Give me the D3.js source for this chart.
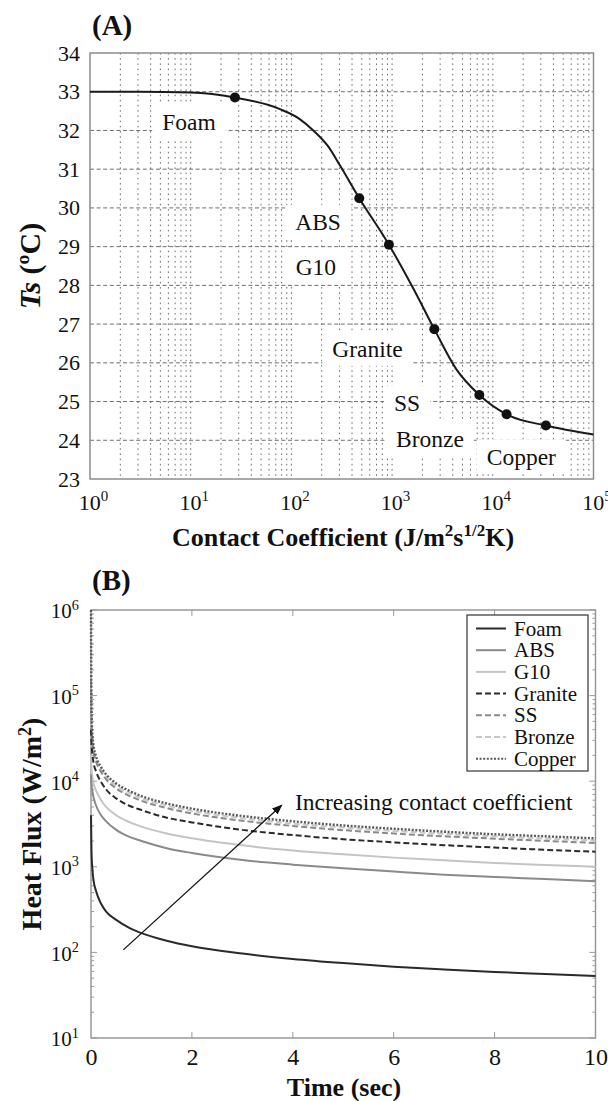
<!DOCTYPE html>
<html><head><meta charset="utf-8">
<script src="https://cdn.jsdelivr.net/npm/d3@7"></script>
<style>
body{margin:0;background:#fff}
svg text{font-family:"Liberation Serif","Times New Roman",Times,"DejaVu Serif",serif;fill:#111}
</style>
</head><body>
<svg id="c" width="608" height="1101"></svg>
<script>
// ---------- Panel A data ----------
const tsTicks = [23,24,25,26,27,28,29,30,31,32,33,34];
const kDecades = [0,1,2,3,4,5];
const curveK  = [1, 3, 10, 27.5, 77, 120, 165, 230, 303, 472, 930, 1600, 2625, 4300, 7350, 13700, 33700, 100000];
const curveTs = [33.0, 33.0, 32.98, 32.85, 32.55, 32.3, 32.0, 31.6, 31.1, 30.25, 29.05, 27.95, 26.87, 25.85, 25.17, 24.67, 24.38, 24.15];
const materials = ["Foam","ABS","G10","Granite","SS","Bronze","Copper"];
const matK  = [27.5, 472, 930, 2625, 7350, 13700, 33700];
const matTs = [32.85, 30.25, 29.05, 26.87, 25.17, 24.67, 24.38];
const labelK  = [9.6, 184, 175, 570, 1406, 2380, 19200];
const labelTs = [32.23, 29.64, 28.48, 26.36, 24.96, 24.03, 23.58];

// ---------- Panel B data ----------
const fluxDecades = [1,2,3,4,5,6];
const timeTicks = [0,2,4,6,8,10];
const time = [0, 0.01, 0.03, 0.05, 0.1, 0.2, 0.3, 0.5, 0.75, 1, 1.5, 2, 3, 4, 5, 6, 7, 8, 9, 10];
const fluxFoam    = [4000, 1500, 900, 700, 520, 370, 300, 240, 195, 168, 137, 118, 97, 84, 75, 68, 63, 59, 56, 53];
const fluxABS     = [12000, 9000, 7500, 6500, 5200, 4000, 3400, 2700, 2250, 2000, 1650, 1450, 1200, 1060, 960, 880, 810, 760, 720, 680];
const fluxG10     = [20000, 14000, 11000, 9500, 7800, 6000, 5000, 4000, 3350, 2950, 2450, 2150, 1780, 1550, 1400, 1280, 1190, 1110, 1050, 1000];
const fluxGranite = [40000, 28000, 20000, 16500, 13000, 9800, 8000, 6300, 5200, 4600, 3750, 3300, 2700, 2350, 2100, 1930, 1790, 1680, 1580, 1500];
const fluxSS      = [150000, 45000, 28000, 22000, 17000, 12800, 10500, 8200, 6800, 5900, 4850, 4200, 3450, 3000, 2680, 2450, 2270, 2130, 2010, 1900];
const fluxBronze  = [250000, 55000, 31000, 24000, 18200, 13700, 11300, 8800, 7300, 6300, 5200, 4500, 3700, 3200, 2870, 2620, 2430, 2270, 2140, 2030];
const fluxCopper  = [1000000, 70000, 34000, 26000, 19500, 14600, 12000, 9400, 7750, 6700, 5500, 4780, 3920, 3400, 3040, 2780, 2570, 2400, 2270, 2150];
const seriesNames = ["Foam","ABS","G10","Granite","SS","Bronze","Copper"];
const seriesData = [fluxFoam, fluxABS, fluxG10, fluxGranite, fluxSS, fluxBronze, fluxCopper];
const arrowTime = [0.64, 3.78];
const arrowFlux = [107, 5250];

const seriesColor = ["#2a2a2a","#8a8a8a","#c4c4c4","#2a2a2a","#8a8a8a","#c8c8c8","#5a5a5a"];
const seriesDash  = [null, null, null, "6,3", "6,3", "6,3", "2,1.6"];

const svg = d3.select("#c");

function supLabel(sel, base, exp, size) {
  sel.text(null);
  sel.append("tspan").text(base);
  sel.append("tspan").attr("dy", -size*0.42).attr("font-size", size*0.68).text(exp);
}

// ================= Panel A =================
const A = {l:90, r:593.5, t:53, b:479};
const xA = d3.scaleLog().domain([1, 1e5]).range([A.l, A.r]);
const yA = d3.scaleLinear().domain([23, 34]).range([A.b, A.t]);
const gA = svg.append("g");

const vGrid = [];
for (let d = 0; d < 5; d++) for (let m = 1; m < 10; m++) vGrid.push(m * Math.pow(10, d));
gA.append("g").selectAll("line").data(vGrid.filter(v => v > 1)).join("line")
  .attr("x1", d => xA(d)).attr("x2", d => xA(d)).attr("y1", A.t).attr("y2", A.b)
  .attr("stroke", "#6e6e6e").attr("stroke-width", 1).attr("stroke-dasharray", "1.6,3.6");
gA.append("g").selectAll("line").data(tsTicks.filter(v => v > 23 && v < 34)).join("line")
  .attr("x1", A.l).attr("x2", A.r).attr("y1", d => yA(d)).attr("y2", d => yA(d))
  .attr("stroke", "#6e6e6e").attr("stroke-width", 1).attr("stroke-dasharray", "4,2.6");

const labG = gA.append("g");
materials.forEach((m, i) => {
  const t = labG.append("text").attr("x", xA(labelK[i])).attr("y", yA(labelTs[i]))
    .attr("text-anchor", "middle").attr("dy", "0.34em")
    .attr("font-size", 23.5).text(m);
  const bb = t.node().getBBox();
  labG.insert("rect", "text").attr("x", bb.x - 10).attr("y", bb.y - 4)
    .attr("width", bb.width + 20).attr("height", bb.height + 8).attr("fill", "#fff");
});

gA.append("rect").attr("x", A.l).attr("y", A.t).attr("width", A.r - A.l).attr("height", A.b - A.t)
  .attr("fill", "none").attr("stroke", "#8c8c8c").attr("stroke-width", 1.5);

const lineA = d3.line().x((d, i) => xA(curveK[i])).y(d => yA(d)).curve(d3.curveMonotoneX);
gA.append("path").datum(curveTs).attr("d", lineA).attr("fill", "none")
  .attr("stroke", "#1a1a1a").attr("stroke-width", 2);
gA.selectAll("circle.m").data(matTs).join("circle")
  .attr("cx", (d, i) => xA(matK[i])).attr("cy", d => yA(d)).attr("r", 5).attr("fill", "#111");

const axA = d3.axisLeft(yA).tickValues(tsTicks).tickSize(0).tickPadding(10);
const axAg = gA.append("g").attr("transform", `translate(${A.l},0)`).call(axA);
axAg.select(".domain").remove();
axAg.selectAll("text").attr("font-size", 22).attr("fill", "#111");

const axAx = d3.axisBottom(xA).tickValues(kDecades.map(e => Math.pow(10, e))).tickSize(0).tickPadding(0);
const axAxg = gA.append("g").attr("transform", `translate(0,${A.b})`).call(axAx);
axAxg.select(".domain").remove();
axAxg.selectAll("text").attr("font-size", 22).attr("fill", "#111").attr("y", 31).attr("dy", 0)
  .attr("dx", 3)
  .each(function(d, i) { supLabel(d3.select(this), "10", String(kDecades[i]), 22); });

const xlabA = gA.append("text").attr("x", 343).attr("y", 546).attr("text-anchor", "middle")
  .attr("font-size", 26).attr("font-weight", "bold");
xlabA.append("tspan").text("Contact Coefficient (J/m");
xlabA.append("tspan").attr("dy", -10).attr("font-size", 17).text("2");
xlabA.append("tspan").attr("dy", 10).text("s");
xlabA.append("tspan").attr("dy", -10).attr("font-size", 17).text("1/2");
xlabA.append("tspan").attr("dy", 10).text("K)");

const ylabA = gA.append("text").attr("transform", `translate(40,${(A.t + A.b) / 2}) rotate(-90)`)
  .attr("text-anchor", "middle").attr("font-size", 30).attr("font-weight", "bold");
ylabA.append("tspan").attr("font-style", "italic").text("Ts");
ylabA.append("tspan").text(" (ºC)");

gA.append("text").attr("x", 92).attr("y", 35).attr("font-size", 29).attr("font-weight", "bold").text("(A)");

// ================= Panel B =================
const B = {l:91, r:595.5, t:610, b:1038};
const xB = d3.scaleLinear().domain([0, 10]).range([B.l, B.r]);
const yB = d3.scaleLog().domain([10, 1e6]).range([B.b, B.t]);
const gB = svg.append("g");

gB.append("rect").attr("x", B.l).attr("y", B.t).attr("width", B.r - B.l).attr("height", B.b - B.t)
  .attr("fill", "none").attr("stroke", "#999").attr("stroke-width", 1.5);

const minorB = [];
for (let d = 1; d < 6; d++) for (let m = 2; m < 10; m++) minorB.push(m * Math.pow(10, d));
[B.l, B.r].forEach((x0, side) => {
  const dir = side === 0 ? 1 : -1;
  gB.append("g").selectAll("line").data(minorB).join("line")
    .attr("x1", x0).attr("x2", x0 + dir * 3).attr("y1", d => yB(d)).attr("y2", d => yB(d))
    .attr("stroke", "#999").attr("stroke-width", 1);
  gB.append("g").selectAll("line").data(fluxDecades.map(e => Math.pow(10, e))).join("line")
    .attr("x1", x0).attr("x2", x0 + dir * 6).attr("y1", d => yB(d)).attr("y2", d => yB(d))
    .attr("stroke", "#999").attr("stroke-width", 1);
});
[B.t, B.b].forEach((y0, side) => {
  const dir = side === 0 ? 1 : -1;
  gB.append("g").selectAll("line").data(timeTicks.slice(1, -1)).join("line")
    .attr("x1", d => xB(d)).attr("x2", d => xB(d)).attr("y1", y0).attr("y2", y0 + dir * 6)
    .attr("stroke", "#999").attr("stroke-width", 1);
});

const lineB = d3.line().x((d, i) => xB(time[i])).y(d => yB(d)).curve(d3.curveMonotoneX);
const order = [2, 1, 5, 4, 3, 6, 0];
order.forEach(i => {
  gB.append("path").datum(seriesData[i]).attr("d", lineB).attr("fill", "none")
    .attr("stroke", seriesColor[i]).attr("stroke-width", i === 6 ? 2.4 : 2)
    .attr("stroke-dasharray", seriesDash[i]);
});

const axBy = d3.axisLeft(yB).tickValues(fluxDecades.map(e => Math.pow(10, e))).tickSize(0).tickPadding(12);
const axByg = gB.append("g").attr("transform", `translate(${B.l},0)`).call(axBy);
axByg.select(".domain").remove();
axByg.selectAll("text").attr("font-size", 21).attr("fill", "#111").attr("dy", "0.38em")
  .each(function(d, i) { supLabel(d3.select(this), "10", String(fluxDecades[i]), 21); });

const axBx = d3.axisBottom(xB).tickValues(timeTicks).tickSize(0).tickPadding(0);
const axBxg = gB.append("g").attr("transform", `translate(0,${B.b})`).call(axBx);
axBxg.select(".domain").remove();
axBxg.selectAll("text").attr("font-size", 24).attr("fill", "#111").attr("y", 27).attr("dy", 0);

gB.append("text").attr("x", 344).attr("y", 1096).attr("text-anchor", "middle")
  .attr("font-size", 26).attr("font-weight", "bold").text("Time (sec)");

const ylabB = gB.append("text").attr("transform", `translate(41,${(B.t + B.b) / 2}) rotate(-90)`)
  .attr("text-anchor", "middle").attr("font-size", 28).attr("font-weight", "bold");
ylabB.append("tspan").text("Heat Flux (W/m");
ylabB.append("tspan").attr("dy", -10).attr("font-size", 18).text("2");
ylabB.append("tspan").attr("dy", 10).text(")");

gB.append("text").attr("x", 92).attr("y", 590).attr("font-size", 29).attr("font-weight", "bold").text("(B)");

const lg = gB.append("g");
lg.append("rect").attr("x", 467).attr("y", 615).attr("width", 121).attr("height", 156)
  .attr("fill", "#fff").attr("stroke", "#333").attr("stroke-width", 1.2);
seriesNames.forEach((n, i) => {
  const y = 628.5 + i * 21.7;
  lg.append("line").attr("x1", 476).attr("x2", 506).attr("y1", y).attr("y2", y)
    .attr("stroke", seriesColor[i]).attr("stroke-width", 2).attr("stroke-dasharray", seriesDash[i]);
  lg.append("text").attr("x", 514).attr("y", y).attr("dy", "0.34em")
    .attr("font-size", 21).text(n);
});

const defs = svg.append("defs");
defs.append("marker").attr("id", "ah").attr("viewBox", "0 0 10 10").attr("refX", 9).attr("refY", 5)
  .attr("markerWidth", 8).attr("markerHeight", 8).attr("orient", "auto")
  .append("path").attr("d", "M0,1 L10,5 L0,9 Z").attr("fill", "#111");
gB.append("line").attr("x1", xB(arrowTime[0])).attr("y1", yB(arrowFlux[0]))
  .attr("x2", xB(arrowTime[1])).attr("y2", yB(arrowFlux[1]))
  .attr("stroke", "#111").attr("stroke-width", 1.3).attr("marker-end", "url(#ah)");
gB.append("text").attr("x", 295).attr("y", 802).attr("dy", "0.34em").attr("font-size", 23.5)
  .text("Increasing contact coefficient");
</script>
</body></html>
